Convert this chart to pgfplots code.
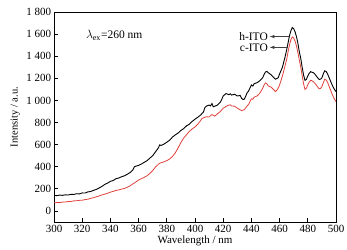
\documentclass[border=0pt]{standalone}
\usepackage{pgfplots}
\pgfplotsset{compat=1.18}
\usepackage{fontspec}
\setmainfont{Liberation Serif}
\definecolor{redc}{HTML}{E0403A}
\begin{document}
\fontsize{11}{12}\selectfont
\begin{tikzpicture}
\begin{axis}[
  scale only axis,
  width=282pt, height=210pt,
  xmin=300, xmax=500, ymin=-100, ymax=1800,
  xtick={300,320,...,500},
  ytick={0,200,...,1800},
  tick align=inside,
  xtick pos=bottom, ytick pos=left,
  major tick length=4pt,
  axis line style={line width=0.9pt},
  every tick/.style={line width=0.8pt,black},
  /pgf/number format/assume math mode=true,
  /pgf/number format/.cd, 1000 sep={\ }, 
  /pgfplots/.cd,
  tick label style={font=\fontsize{11}{12}\selectfont},
  xlabel style={font=\fontsize{11}{12}\selectfont, yshift=4pt},
  ylabel style={font=\fontsize{10.5}{12}\selectfont, yshift=-1pt},
  xlabel={Wavelength / nm},
  ylabel={Intensity / a.u.},
  yticklabel style={xshift=1pt},
  xticklabel style={yshift=1pt},
]
\addplot[black, line width=0.9pt] coordinates {
(300,142)(302,138)(304,144)(306,141)(308,146)(310,144)(312,150)(314,149)(316,156)(318,154)(320,163)(322,162)(324,172)(326,176)(328,186)(330,195)(332,208)(334,222)(336,240)(338,252)(340,268)(342,275)(344,292)(346,298)(348,310)(350,318)(352,332)(354,348)(356,372)(357,400)(358,405)(360,412)(362,425)(364,440)(366,455)(368,478)(370,500)(372,535)(374,570)(375,598)(376,592)(378,605)(380,622)(382,640)(384,668)(386,688)(388,705)(390,728)(392,745)(394,770)(396,785)(398,810)(400,830)(402,848)(404,868)(406,895)(407,935)(408,948)(410,958)(411,950)(412,972)(413,942)(414,948)(416,958)(418,985)(419,1010)(420,1040)(422,1062)(424,1052)(425,1060)(426,1048)(428,1056)(430,1040)(432,1045)(433,1020)(434,1008)(435,1012)(436,1040)(437,1070)(438,1085)(440,1140)(441,1130)(442,1152)(444,1160)(446,1178)(448,1205)(449,1235)(450,1258)(451,1262)(452,1250)(454,1232)(456,1205)(457,1192)(458,1198)(459,1205)(460,1240)(462,1300)(463,1350)(464,1400)(465,1458)(466,1520)(467,1585)(468,1630)(469,1660)(470,1648)(471,1620)(472,1575)(473,1515)(474,1440)(475,1380)(476,1300)(477,1230)(478,1182)(479,1190)(480,1222)(481,1245)(482,1260)(483,1255)(484,1250)(485,1238)(486,1222)(487,1205)(488,1190)(489,1192)(490,1205)(491,1240)(492,1268)(493,1262)(494,1240)(495,1210)(496,1178)(497,1148)(498,1120)(499,1098)(500,1080)
};
\addplot[redc, line width=0.8pt] coordinates {
(300,73)(302,76)(304,75)(306,80)(308,81)(310,85)(312,86)(314,91)(316,92)(318,96)(320,97)(322,103)(324,106)(326,114)(328,120)(330,128)(332,136)(334,145)(336,152)(338,160)(340,170)(342,177)(344,186)(346,190)(348,198)(350,204)(352,214)(354,228)(356,245)(358,262)(360,280)(362,292)(364,304)(366,318)(368,340)(370,365)(372,398)(374,422)(375,432)(376,436)(378,445)(380,455)(382,470)(384,492)(386,525)(388,570)(390,620)(392,660)(394,690)(396,720)(398,742)(400,760)(402,785)(404,818)(405,838)(406,842)(408,852)(410,850)(411,862)(412,872)(413,866)(414,858)(415,868)(416,880)(418,900)(420,930)(422,945)(424,958)(425,960)(426,950)(428,948)(430,930)(432,915)(433,908)(434,912)(435,916)(436,935)(438,965)(440,1015)(441,1010)(442,1030)(444,1040)(446,1065)(448,1110)(449,1140)(450,1158)(451,1150)(452,1130)(454,1120)(456,1095)(457,1080)(458,1092)(459,1110)(460,1140)(462,1220)(463,1270)(464,1320)(465,1370)(466,1440)(467,1500)(468,1550)(469,1575)(470,1565)(471,1535)(472,1490)(473,1430)(474,1365)(475,1300)(476,1225)(477,1150)(478,1100)(479,1110)(480,1142)(481,1165)(482,1182)(483,1178)(484,1168)(485,1155)(486,1140)(487,1122)(488,1105)(489,1108)(490,1125)(491,1160)(492,1192)(493,1185)(494,1165)(495,1130)(496,1098)(497,1065)(498,1035)(499,1010)(500,989)
};
\node[anchor=west, font=\fontsize{11.5}{12}\selectfont] at (axis cs:320,1590) {$\lambda_{\mathrm{ex}}$=260 nm};
\node[anchor=east, font=\fontsize{11.5}{12}\selectfont, inner sep=1pt] at (axis cs:452.5,1575) {h-ITO};
\node[anchor=east, font=\fontsize{11.5}{12}\selectfont, inner sep=1pt] at (axis cs:452.5,1478) {c-ITO};
\draw[-latex, black!75, line width=0.6pt] (axis cs:467,1578) -- (axis cs:453,1578);
\draw[-latex, black!75, line width=0.6pt] (axis cs:466,1480) -- (axis cs:453,1480);
\end{axis}
\pgfresetboundingbox
\path[use as bounding box] ([shift={(-54pt,-28pt)}]current axis.south west) rectangle ([shift={(11pt,12pt)}]current axis.north east);
\end{tikzpicture}
\end{document}
